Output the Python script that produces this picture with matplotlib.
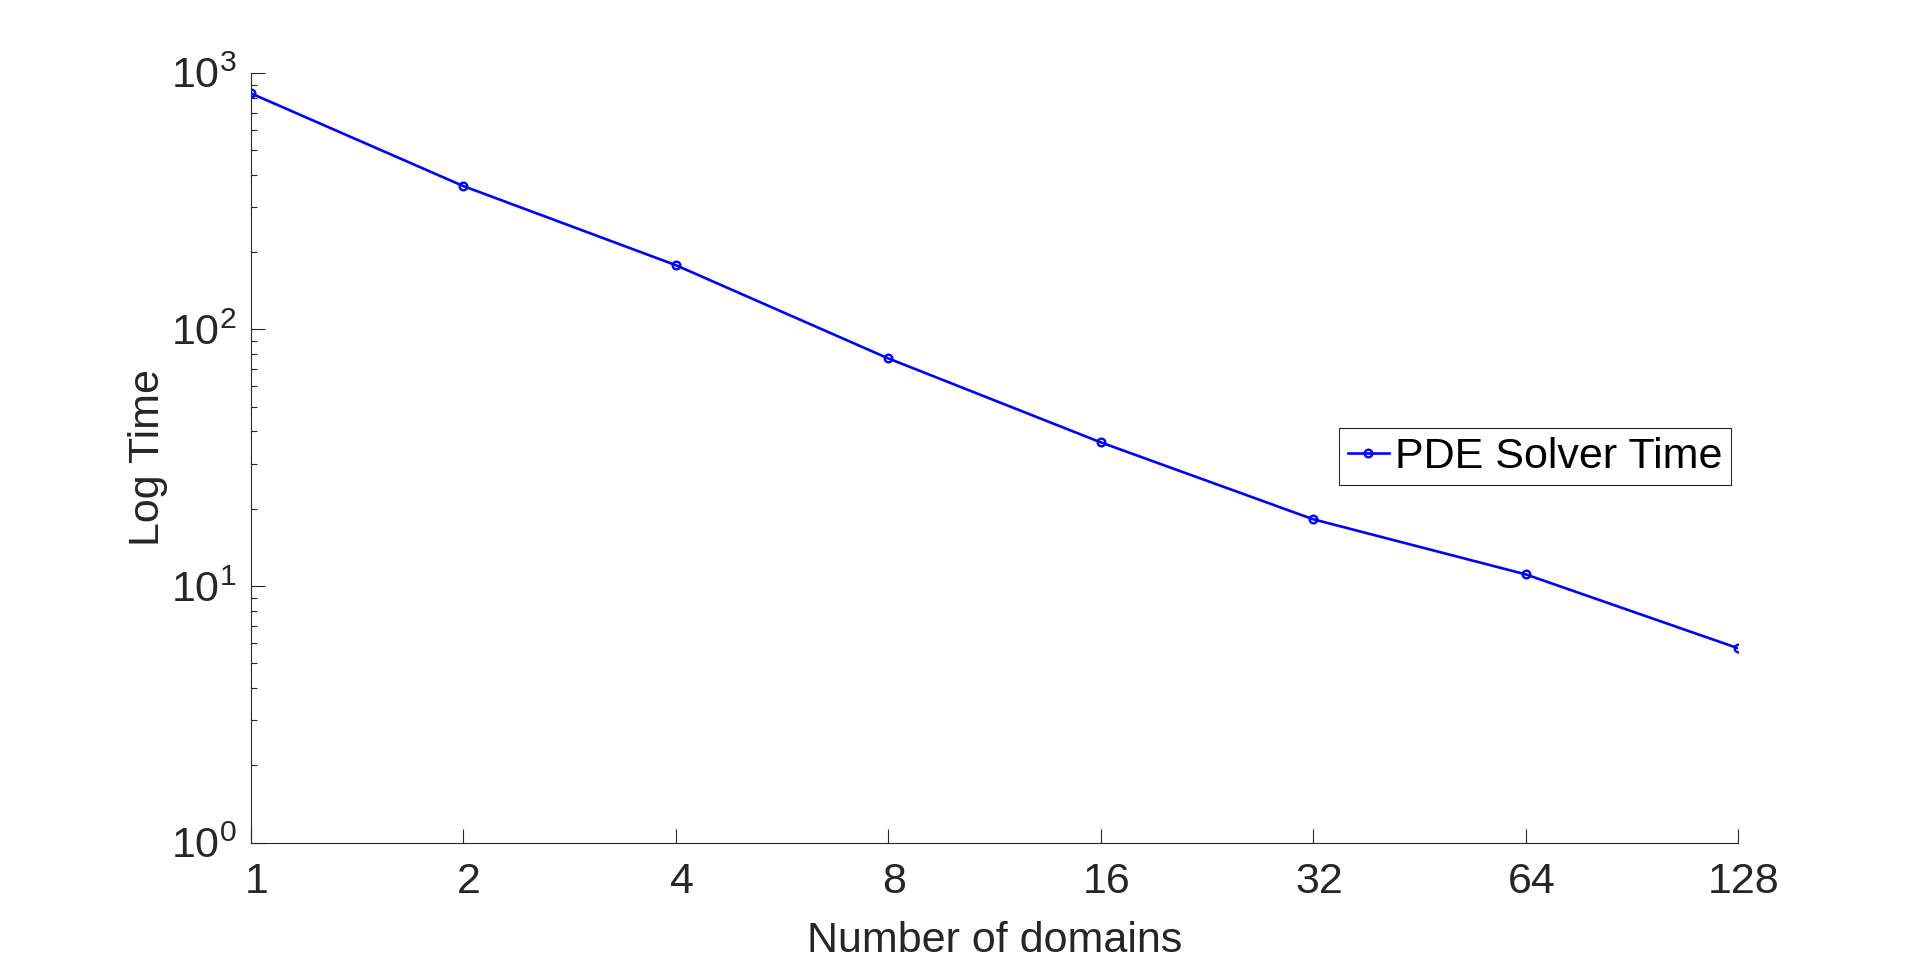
import matplotlib.pyplot as plt
import matplotlib.transforms as mtransforms

plt.rcParams['font.family'] = ['Liberation Sans', 'DejaVu Sans']
plt.rcParams['mathtext.fontset'] = 'custom'
plt.rcParams['mathtext.rm'] = 'Liberation Sans'
plt.rcParams['mathtext.it'] = 'Liberation Sans'

# data
domains = [1, 2, 4, 8, 16, 32, 64, 128]
solver_time = [832, 362, 178, 77.1, 36.3, 18.2, 11.1, 5.72]
x_tick_labels = ['1', '2', '4', '8', '16', '32', '64', '128']
y_ticks = [1, 10, 100, 1000]
y_tick_labels = ['$10^{0}$', '$10^{1}$', '$10^{2}$', '$10^{3}$']

gray = '#262626'

fig = plt.figure(figsize=(19.2, 9.64), dpi=100)
ax = fig.add_axes([0.1306, 0.1260, 0.7746, 0.7985])

ax.plot(domains, solver_time, color='#0000FF', lw=1.9, marker='o', ms=5.5,
        mew=1.7, mfc='none', label='PDE Solver Time')

ax.set_xscale('log', base=2)
ax.set_yscale('log')
ax.set_xlim(1, 128)
ax.set_ylim(1, 1000)

ax.set_xticks(domains)
ax.set_xticklabels(x_tick_labels)
ax.xaxis.set_minor_locator(plt.NullLocator())
ax.set_yticks(y_ticks)
ax.set_yticklabels(y_tick_labels)

for side in ['top', 'right']:
    ax.spines[side].set_visible(False)
for side in ['left', 'bottom']:
    ax.spines[side].set_color(gray)
    ax.spines[side].set_linewidth(0.8)

ax.tick_params(which='major', direction='in', length=10, width=0.8, color=gray,
               labelcolor=gray)
ax.tick_params(which='minor', direction='in', length=4.5, width=0.8, color=gray)
ax.tick_params(axis='x', labelsize=31, pad=14)
ax.tick_params(axis='y', labelsize=31, pad=10)

# labels in the reference sit a little right of their ticks
shift = mtransforms.ScaledTranslation(0.06, 0, fig.dpi_scale_trans)
for lbl in ax.get_xticklabels():
    lbl.set_transform(lbl.get_transform() + shift)

ax.set_xlabel('Number of domains', fontsize=31, color=gray)
ax.set_ylabel('Log Time', fontsize=31, color=gray)
ax.xaxis.set_label_coords(0.5, -0.102)
ax.yaxis.set_label_coords(-0.0556, 0.5)

leg = ax.legend(loc='upper left', bbox_to_anchor=(0.6974, 0.556),
                bbox_transform=fig.transFigure, fontsize=31, numpoints=1,
                handlelength=0.95, handletextpad=0.15, borderaxespad=0,
                borderpad=0.2, fancybox=False, framealpha=1)
leg.get_frame().set_edgecolor(gray)
leg.get_frame().set_linewidth(0.8)

plt.savefig('out.png', dpi=100)
